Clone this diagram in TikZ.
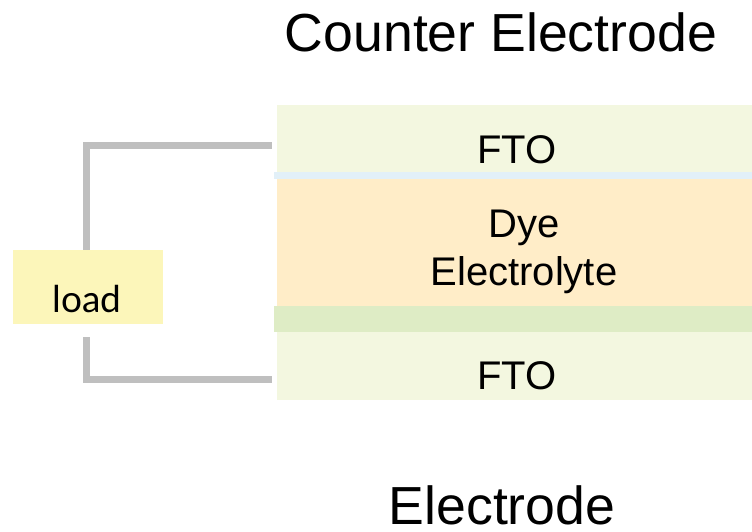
\documentclass[tikz,border=0pt]{standalone}
\usepackage{fontspec}
\setmainfont{Liberation Sans}
\newfontfamily\loadfont{Lato}
\usetikzlibrary{positioning,calc}
\definecolor{ftogreen}{RGB}{243,247,224}
\definecolor{stripblue}{RGB}{226,240,248}
\definecolor{dyeorange}{RGB}{255,237,200}
\definecolor{stripgreen}{RGB}{222,236,197}
\definecolor{loadyellow}{RGB}{252,246,186}
\definecolor{wiregray}{RGB}{191,191,191}

\begin{document}
\begin{tikzpicture}[x=1pt, y=1pt,
    layer/.style={rectangle, draw=none, fill=#1, inner sep=0pt,
                  minimum width=475pt},
    strip/.style={rectangle, draw=none, fill=#1, inner sep=0pt,
                  minimum width=478pt},
    lbl/.style={font=\fontsize{40}{48}\selectfont, anchor=base, inner sep=0pt, align=center},
    title/.style={font=\fontsize{53.6}{64}\selectfont, anchor=base, inner sep=0pt},
    wire/.style={draw=wiregray, line width=7pt}
]
\useasboundingbox (0,0) rectangle (752,531);
% cell layers
\node[layer=ftogreen, minimum height=67pt] (fto1) at (514.5,392.5) {};
\node[strip=stripblue, minimum height=7pt] (sblue) at (513,355.5) {};
\node[layer=dyeorange, minimum height=127pt] (dye) at (514.5,288.5) {};
\node[strip=stripgreen, minimum height=26pt] (sgreen) at (513,212) {};
\node[layer=ftogreen, minimum height=68pt] (fto2) at (514.5,165) {};
% layer texts
\node[lbl] (fto1txt) at (517,367) {FTO};
\node[lbl] (dyetxt) at (524,246) {Dye\\Electrolyte};
\node[lbl] (fto2txt) at (517,142) {FTO};
\node[title] (ctitle) at (501,479) {Counter Electrode};
\node[title] (etitle) at (502,7) {Electrode};
% load
\node[rectangle, fill=loadyellow, minimum width=150pt, minimum height=74pt,
      inner sep=0pt] (load) at (88,244) {};
\node[font=\loadfont\fontsize{37}{40}\selectfont, anchor=base, inner sep=0pt]
      (loadtxt) at (87,219) {load};
% wires
\draw[wire, shorten >=5pt] ([xshift=-2pt]load.north) |- ([yshift=-7.5pt]fto1.west);
\draw[wire, shorten <=13pt, shorten >=5pt] ([xshift=-2pt]load.south) |- ([yshift=-13pt]fto2.west);
\end{tikzpicture}
\end{document}
